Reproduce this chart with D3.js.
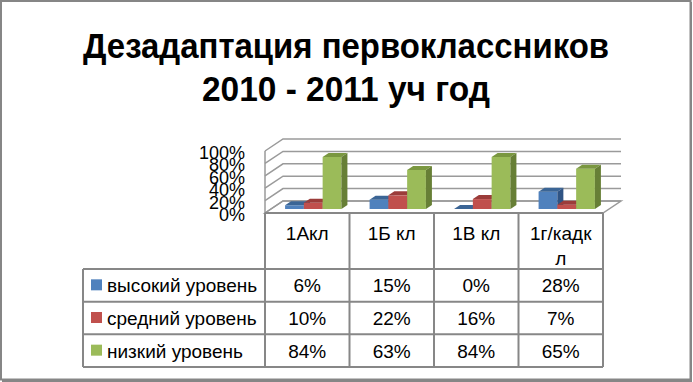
<!DOCTYPE html>
<html>
<head>
<meta charset="utf-8">
<script src="https://cdn.jsdelivr.net/npm/d3@7"></script>
<style>
  body { margin: 0; background: #fff; }
  svg { display: block; }
  text { font-family: "Liberation Sans", Arial, sans-serif; fill: #000; }
</style>
</head>
<body>
<svg width="693" height="382"></svg>
<script>
// data
var categories = ["1Акл", "1Б кл", "1В кл", "1г/кадкл"];
var seriesNames = ["высокий уровень", "средний уровень", "низкий уровень"];
var vysokiy = [0.06, 0.15, 0.00, 0.28];
var sredniy = [0.10, 0.22, 0.16, 0.07];
var nizkiy = [0.84, 0.63, 0.84, 0.65];
var yTicks = [0, 0.2, 0.4, 0.6, 0.8, 1];
var titleLines = ["Дезадаптация первоклассников", "2010 - 2011 уч год"];

var seriesValues = [vysokiy, sredniy, nizkiy];
// front, top, side colours of each series
var colors = [
  ["#4f81bd", "#3b6595", "#2f5484"],
  ["#c0504d", "#9b3c3a", "#8a3432"],
  ["#9bbb59", "#7a9740", "#677f36"]
];

var svg = d3.select("svg");

// frame
svg.append("rect").attr("x", 1).attr("y", 1).attr("width", 689.5).attr("height", 378.5)
  .attr("fill", "#fff").attr("stroke", "#868686").attr("stroke-width", 2);
svg.append("line").attr("x1", 691).attr("y1", 2).attr("x2", 691).attr("y2", 381)
  .attr("stroke", "#868686").attr("stroke-width", 2);
svg.append("line").attr("x1", 2).attr("y1", 381).attr("x2", 692).attr("y2", 381)
  .attr("stroke", "#868686").attr("stroke-width", 2);

// title, squeezed to the width it has in the picture
var title = svg.append("g");
[[titleLines[0], 58, 526], [titleLines[1], 101, 288]].forEach(function(t) {
  var el = title.append("text")
    .attr("x", 346).attr("y", t[1])
    .attr("text-anchor", "middle")
    .style("font-weight", "bold")
    .style("font-size", "35px")
    .text(t[0]);
  var w = el.node().getComputedTextLength();
  if (w > t[2]) el.attr("textLength", t[2]).attr("lengthAdjust", "spacingAndGlyphs");
});

// 3d plot geometry
var frontY = 213, depthX = 18, depthY = -12;
var x = d3.scaleBand().domain(categories).range([265, 603]);
var inner = d3.scaleBand().domain(seriesNames).range([0, x.bandwidth()])
  .paddingInner(0).paddingOuter(0.75);
var y = d3.scaleLinear().domain([0, 1]).range([frontY, frontY - 62]);
var gridColor = "#9a9a9a";

var plot = svg.append("g");

// floor
plot.append("polygon")
  .attr("points", [[265, frontY], [603, frontY], [603 + depthX, frontY + depthY], [265 + depthX, frontY + depthY]].join(" "))
  .attr("fill", "#fff").attr("stroke", gridColor).attr("stroke-width", 1.5);

// left wall edge and gridlines
plot.append("line").attr("x1", 265).attr("x2", 265).attr("y1", y(1)).attr("y2", frontY)
  .attr("stroke", gridColor).attr("stroke-width", 1.5);
yTicks.forEach(function(t) {
  plot.append("polyline")
    .attr("points", [[265, y(t)], [265 + depthX, y(t) + depthY], [603 + depthX, y(t) + depthY]].join(" "))
    .attr("fill", "none").attr("stroke", gridColor).attr("stroke-width", 1.5);
});

// y labels (they overlap in the original too)
svg.append("g").selectAll("text").data(yTicks).enter().append("text")
  .attr("x", 245).attr("y", function(d) { return y(d) + 8; })
  .attr("text-anchor", "end")
  .style("font-size", "18px")
  .text(function(d) { return Math.round(d * 100) + "%"; });

// bars, in the middle third of the floor depth
var f0 = 1 / 3, f1 = 2 / 3;
categories.forEach(function(c, ci) {
  seriesNames.forEach(function(s, si) {
    var v = seriesValues[si][ci];
    var bx = x(c) + inner(s), bw = inner.bandwidth();
    var ax = depthX * f0, ay = depthY * f0, bxo = depthX * f1, byo = depthY * f1;
    var top = y(v), bot = frontY;
    var g = plot.append("g");
    g.append("polygon").attr("fill", colors[si][0])
      .attr("points", [[bx + ax, top + ay], [bx + bw + ax, top + ay], [bx + bw + ax, bot + ay], [bx + ax, bot + ay]].join(" "));
    g.append("polygon").attr("fill", colors[si][1])
      .attr("points", [[bx + ax, top + ay], [bx + bw + ax, top + ay], [bx + bw + bxo, top + byo], [bx + bxo, top + byo]].join(" "));
    g.append("polygon").attr("fill", colors[si][2])
      .attr("points", [[bx + bw + ax, top + ay], [bx + bw + bxo, top + byo], [bx + bw + bxo, bot + byo], [bx + bw + ax, bot + ay]].join(" "));
  });
});

// data table
var tableColor = "#878787";
var row = d3.scaleBand().domain(seriesNames).range([269, 367]);
var colEdges = categories.map(function(c) { return x(c); }).concat([603]);
var table = svg.append("g").attr("stroke", tableColor).attr("stroke-width", 2);
colEdges.forEach(function(cx) {
  table.append("line").attr("x1", cx).attr("x2", cx).attr("y1", frontY).attr("y2", 367);
});
table.append("line").attr("x1", 83).attr("x2", 83).attr("y1", 269).attr("y2", 367);
table.append("line").attr("x1", 265).attr("x2", 603).attr("y1", frontY).attr("y2", frontY);
seriesNames.forEach(function(s) {
  table.append("line").attr("x1", 83).attr("x2", 603).attr("y1", row(s)).attr("y2", row(s));
});
table.append("line").attr("x1", 83).attr("x2", 603).attr("y1", 367).attr("y2", 367);

// header labels, wrapped by character to the cell width
var txt = svg.append("g").style("font-size", "19px");
categories.forEach(function(c) {
  var el = txt.append("text").attr("text-anchor", "middle")
    .attr("x", x(c) + x.bandwidth() / 2);
  var lines = [], cur = "";
  for (var i = 0; i < c.length; i++) {
    el.text(cur + c[i]);
    if (el.node().getComputedTextLength() > x.bandwidth() - 12 && cur) { lines.push(cur); cur = c[i]; }
    else cur += c[i];
  }
  lines.push(cur);
  el.text(null);
  lines.forEach(function(l, li) {
    el.append("tspan").attr("x", x(c) + x.bandwidth() / 2).attr("y", 240 + li * 25).text(l);
  });
});

// legend column and values
seriesNames.forEach(function(s, si) {
  var cy = row(s) + row.bandwidth() / 2;
  svg.append("rect").attr("x", 91).attr("y", cy - 6).attr("width", 11).attr("height", 11)
    .attr("fill", colors[si][0]);
  txt.append("text").attr("x", 107).attr("y", cy + 7).text(s);
  categories.forEach(function(c, ci) {
    txt.append("text").attr("text-anchor", "middle")
      .attr("x", x(c) + x.bandwidth() / 2).attr("y", cy + 7)
      .text(Math.round(seriesValues[si][ci] * 100) + "%");
  });
});
</script>
</body>
</html>
